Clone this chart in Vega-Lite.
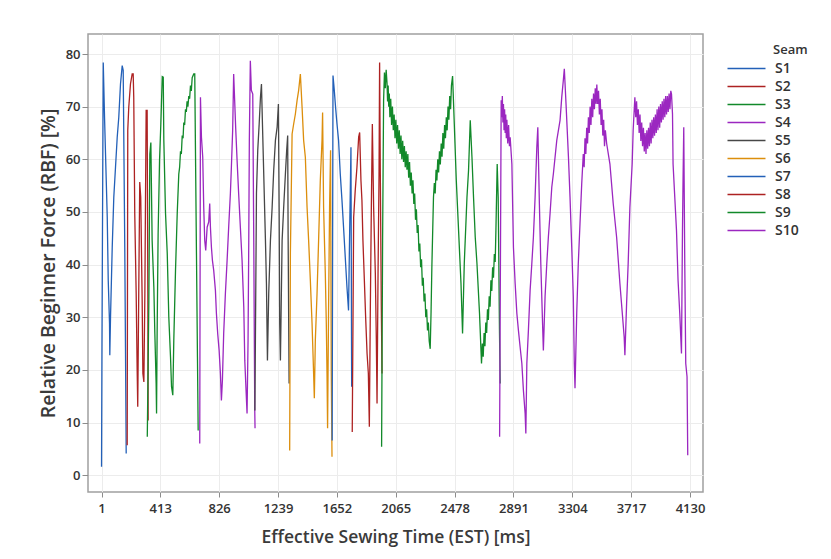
{
"$schema": "https://vega.github.io/schema/vega-lite/v6.json",
"width": 615, "height": 458, "autosize": "none",
"padding": {"left": 88, "top": 34, "right": 128, "bottom": 67},
"background": "white",
"config": {
  "view": {"stroke": "#a0a0a0", "strokeWidth": 1.5},
  "font": "Open Sans",
  "axis": {"gridColor": "#ececec", "gridWidth": 1, "domain": false, "tickColor": "#8c8c8c", "tickSize": 5,
    "labelFont": "Open Sans", "labelFontSize": 13, "labelFontWeight": 600, "labelColor": "#333333",
    "titleFont": "Open Sans", "titleFontWeight": 600, "titleColor": "#3a3a3a"},
  "legend": {"titleFont": "Open Sans", "titleFontSize": 13, "titleFontWeight": 600, "titleColor": "#333333",
    "labelFont": "Open Sans", "labelFontSize": 14, "labelFontWeight": 600, "labelColor": "#333333"}
},
"datasets": {"d": [
{"s":"S1","t":1,"v":1.6},{"s":"S1","t":4,"v":25.0},{"s":"S1","t":13,"v":78.4},{"s":"S1","t":22,"v":68.0},{"s":"S1","t":34,"v":56.0},{"s":"S1","t":41,"v":49.0},{"s":"S1","t":48,"v":37.0},{"s":"S1","t":57,"v":28.8},{"s":"S1","t":59,"v":22.8},{"s":"S1","t":64,"v":30.0},{"s":"S1","t":76,"v":43.3},{"s":"S1","t":87,"v":52.8},{"s":"S1","t":99,"v":58.5},{"s":"S1","t":111,"v":64.2},{"s":"S1","t":122,"v":68.0},{"s":"S1","t":134,"v":74.3},{"s":"S1","t":146,"v":77.8},{"s":"S1","t":153,"v":76.9},{"s":"S1","t":164,"v":43.3},{"s":"S1","t":169,"v":24.3},{"s":"S1","t":174,"v":4.1},
{"s":"S2","t":181,"v":5.7},{"s":"S2","t":185,"v":65.5},{"s":"S2","t":192,"v":69.9},{"s":"S2","t":204,"v":74.3},{"s":"S2","t":216,"v":76.2},{"s":"S2","t":223,"v":76.2},{"s":"S2","t":227,"v":71.8},{"s":"S2","t":234,"v":49.7},{"s":"S2","t":244,"v":34.5},{"s":"S2","t":251,"v":19.9},{"s":"S2","t":255,"v":13.0},{"s":"S2","t":262,"v":34.5},{"s":"S2","t":269,"v":55.7},{"s":"S2","t":276,"v":52.8},{"s":"S2","t":286,"v":33.2},{"s":"S2","t":291,"v":19.3},{"s":"S2","t":298,"v":17.7},{"s":"S2","t":305,"v":34.5},{"s":"S2","t":309,"v":50.9},{"s":"S2","t":314,"v":69.3},{"s":"S2","t":321,"v":69.3},{"s":"S2","t":326,"v":33.2},{"s":"S2","t":328,"v":10.4},
{"s":"S3","t":322,"v":7.3},{"s":"S3","t":333,"v":33.2},{"s":"S3","t":340,"v":61.0},{"s":"S3","t":347,"v":63.2},{"s":"S3","t":356,"v":44.6},{"s":"S3","t":368,"v":35.7},{"s":"S3","t":375,"v":26.9},{"s":"S3","t":384,"v":17.4},{"s":"S3","t":387,"v":11.7},{"s":"S3","t":391,"v":26.9},{"s":"S3","t":398,"v":45.9},{"s":"S3","t":408,"v":59.8},{"s":"S3","t":417,"v":66.7},{"s":"S3","t":427,"v":75.7},{"s":"S3","t":434,"v":75.6},{"s":"S3","t":438,"v":63.6},{"s":"S3","t":450,"v":49.7},{"s":"S3","t":462,"v":42.1},{"s":"S3","t":473,"v":30.0},{"s":"S3","t":485,"v":22.4},{"s":"S3","t":492,"v":16.8},{"s":"S3","t":501,"v":15.2},{"s":"S3","t":508,"v":25.6},{"s":"S3","t":520,"v":38.9},{"s":"S3","t":532,"v":49.7},{"s":"S3","t":543,"v":57.2},{"s":"S3","t":549,"v":58.5},{"s":"S3","t":555,"v":61.5},{"s":"S3","t":561,"v":61.0},{"s":"S3","t":567,"v":64.5},{"s":"S3","t":573,"v":64.0},{"s":"S3","t":578,"v":67.0},{"s":"S3","t":584,"v":66.5},{"s":"S3","t":590,"v":69.5},{"s":"S3","t":596,"v":69.0},{"s":"S3","t":601,"v":71.0},{"s":"S3","t":607,"v":70.0},{"s":"S3","t":613,"v":72.0},{"s":"S3","t":619,"v":71.5},{"s":"S3","t":625,"v":74.0},{"s":"S3","t":631,"v":73.0},{"s":"S3","t":637,"v":75.5},{"s":"S3","t":648,"v":76.2},{"s":"S3","t":655,"v":76.2},{"s":"S3","t":660,"v":61.7},{"s":"S3","t":667,"v":42.1},{"s":"S3","t":674,"v":22.4},{"s":"S3","t":679,"v":8.5},
{"s":"S4","t":690,"v":6.0},{"s":"S4","t":695,"v":71.8},{"s":"S4","t":702,"v":64.2},{"s":"S4","t":711,"v":60.4},{"s":"S4","t":718,"v":50.9},{"s":"S4","t":725,"v":44.6},{"s":"S4","t":732,"v":42.7},{"s":"S4","t":742,"v":47.1},{"s":"S4","t":753,"v":48.1},{"s":"S4","t":760,"v":51.6},{"s":"S4","t":765,"v":47.1},{"s":"S4","t":772,"v":43.3},{"s":"S4","t":779,"v":40.8},{"s":"S4","t":788,"v":38.9},{"s":"S4","t":800,"v":35.1},{"s":"S4","t":807,"v":30.7},{"s":"S4","t":816,"v":26.9},{"s":"S4","t":826,"v":23.7},{"s":"S4","t":835,"v":19.3},{"s":"S4","t":842,"v":14.2},{"s":"S4","t":849,"v":18.0},{"s":"S4","t":858,"v":26.9},{"s":"S4","t":870,"v":34.5},{"s":"S4","t":882,"v":40.8},{"s":"S4","t":893,"v":47.1},{"s":"S4","t":905,"v":53.5},{"s":"S4","t":912,"v":58.5},{"s":"S4","t":921,"v":65.5},{"s":"S4","t":928,"v":76.2},{"s":"S4","t":935,"v":71.2},{"s":"S4","t":942,"v":66.1},{"s":"S4","t":952,"v":59.8},{"s":"S4","t":963,"v":53.5},{"s":"S4","t":975,"v":47.1},{"s":"S4","t":987,"v":40.8},{"s":"S4","t":999,"v":31.9},{"s":"S4","t":1006,"v":21.8},{"s":"S4","t":1015,"v":16.1},{"s":"S4","t":1022,"v":11.7},{"s":"S4","t":1029,"v":25.6},{"s":"S4","t":1034,"v":44.6},{"s":"S4","t":1038,"v":63.6},{"s":"S4","t":1045,"v":78.7},{"s":"S4","t":1052,"v":73.1},{"s":"S4","t":1062,"v":72.4},{"s":"S4","t":1069,"v":44.6},{"s":"S4","t":1076,"v":12.3},{"s":"S4","t":1078,"v":8.9},
{"s":"S5","t":1077,"v":12.3},{"s":"S5","t":1088,"v":53.5},{"s":"S5","t":1097,"v":61.7},{"s":"S5","t":1107,"v":66.7},{"s":"S5","t":1116,"v":71.8},{"s":"S5","t":1123,"v":74.3},{"s":"S5","t":1130,"v":66.7},{"s":"S5","t":1139,"v":57.2},{"s":"S5","t":1151,"v":44.6},{"s":"S5","t":1158,"v":36.4},{"s":"S5","t":1165,"v":21.8},{"s":"S5","t":1174,"v":34.5},{"s":"S5","t":1186,"v":44.6},{"s":"S5","t":1198,"v":50.9},{"s":"S5","t":1209,"v":57.9},{"s":"S5","t":1221,"v":63.6},{"s":"S5","t":1233,"v":66.1},{"s":"S5","t":1242,"v":70.5},{"s":"S5","t":1247,"v":50.9},{"s":"S5","t":1251,"v":28.8},{"s":"S5","t":1256,"v":21.8},{"s":"S5","t":1268,"v":44.6},{"s":"S5","t":1279,"v":50.9},{"s":"S5","t":1291,"v":57.2},{"s":"S5","t":1300,"v":61.7},{"s":"S5","t":1307,"v":64.5},{"s":"S5","t":1310,"v":45.9},{"s":"S5","t":1317,"v":17.4},
{"s":"S6","t":1321,"v":4.7},{"s":"S6","t":1326,"v":42.1},{"s":"S6","t":1338,"v":64.8},{"s":"S6","t":1349,"v":66.7},{"s":"S6","t":1361,"v":68.6},{"s":"S6","t":1373,"v":71.2},{"s":"S6","t":1384,"v":73.1},{"s":"S6","t":1396,"v":76.2},{"s":"S6","t":1408,"v":69.9},{"s":"S6","t":1419,"v":63.6},{"s":"S6","t":1431,"v":60.4},{"s":"S6","t":1443,"v":50.9},{"s":"S6","t":1454,"v":44.6},{"s":"S6","t":1466,"v":37.0},{"s":"S6","t":1478,"v":28.8},{"s":"S6","t":1489,"v":19.3},{"s":"S6","t":1494,"v":14.6},{"s":"S6","t":1501,"v":25.6},{"s":"S6","t":1513,"v":34.5},{"s":"S6","t":1524,"v":44.6},{"s":"S6","t":1536,"v":56.0},{"s":"S6","t":1548,"v":63.6},{"s":"S6","t":1552,"v":68.9},{"s":"S6","t":1559,"v":50.9},{"s":"S6","t":1571,"v":38.3},{"s":"S6","t":1578,"v":28.8},{"s":"S6","t":1583,"v":19.3},{"s":"S6","t":1587,"v":8.9},{"s":"S6","t":1594,"v":31.9},{"s":"S6","t":1601,"v":50.9},{"s":"S6","t":1608,"v":61.7},{"s":"S6","t":1613,"v":19.3},{"s":"S6","t":1618,"v":3.5},
{"s":"S7","t":1619,"v":6.6},{"s":"S7","t":1625,"v":75.9},{"s":"S7","t":1634,"v":73.1},{"s":"S7","t":1643,"v":69.9},{"s":"S7","t":1653,"v":66.7},{"s":"S7","t":1664,"v":63.6},{"s":"S7","t":1676,"v":57.2},{"s":"S7","t":1688,"v":52.2},{"s":"S7","t":1699,"v":47.1},{"s":"S7","t":1711,"v":41.4},{"s":"S7","t":1723,"v":35.7},{"s":"S7","t":1734,"v":31.3},{"s":"S7","t":1741,"v":44.6},{"s":"S7","t":1751,"v":62.3},{"s":"S7","t":1756,"v":16.8},
{"s":"S8","t":1760,"v":8.2},{"s":"S8","t":1770,"v":49.0},{"s":"S8","t":1781,"v":54.1},{"s":"S8","t":1793,"v":58.5},{"s":"S8","t":1805,"v":64.2},{"s":"S8","t":1812,"v":65.1},{"s":"S8","t":1821,"v":56.0},{"s":"S8","t":1828,"v":52.2},{"s":"S8","t":1835,"v":44.6},{"s":"S8","t":1845,"v":37.0},{"s":"S8","t":1854,"v":30.0},{"s":"S8","t":1864,"v":23.1},{"s":"S8","t":1873,"v":19.3},{"s":"S8","t":1880,"v":9.2},{"s":"S8","t":1887,"v":31.9},{"s":"S8","t":1894,"v":50.9},{"s":"S8","t":1901,"v":66.7},{"s":"S8","t":1910,"v":50.9},{"s":"S8","t":1922,"v":38.3},{"s":"S8","t":1929,"v":25.6},{"s":"S8","t":1934,"v":13.6},{"s":"S8","t":1941,"v":38.3},{"s":"S8","t":1948,"v":57.2},{"s":"S8","t":1952,"v":78.4},{"s":"S8","t":1957,"v":57.2},{"s":"S8","t":1964,"v":31.9},{"s":"S8","t":1969,"v":19.3},
{"s":"S9","t":1966,"v":5.4},{"s":"S9","t":1973,"v":44.6},{"s":"S9","t":1980,"v":71.2},{"s":"S9","t":1986,"v":76.5},{"s":"S9","t":1992,"v":73.5},{"s":"S9","t":1998,"v":77.0},{"s":"S9","t":2004,"v":74.5},{"s":"S9","t":2008,"v":71.0},{"s":"S9","t":2012,"v":74.0},{"s":"S9","t":2016,"v":70.0},{"s":"S9","t":2020,"v":72.5},{"s":"S9","t":2024,"v":68.0},{"s":"S9","t":2030,"v":71.5},{"s":"S9","t":2036,"v":66.5},{"s":"S9","t":2042,"v":70.0},{"s":"S9","t":2048,"v":65.5},{"s":"S9","t":2054,"v":68.5},{"s":"S9","t":2060,"v":64.0},{"s":"S9","t":2066,"v":67.5},{"s":"S9","t":2072,"v":63.0},{"s":"S9","t":2078,"v":66.5},{"s":"S9","t":2084,"v":62.0},{"s":"S9","t":2090,"v":65.5},{"s":"S9","t":2096,"v":61.0},{"s":"S9","t":2102,"v":64.5},{"s":"S9","t":2108,"v":60.0},{"s":"S9","t":2114,"v":63.5},{"s":"S9","t":2120,"v":59.5},{"s":"S9","t":2126,"v":62.5},{"s":"S9","t":2132,"v":58.5},{"s":"S9","t":2138,"v":61.5},{"s":"S9","t":2144,"v":58.0},{"s":"S9","t":2150,"v":61.0},{"s":"S9","t":2156,"v":56.5},{"s":"S9","t":2162,"v":59.5},{"s":"S9","t":2168,"v":55.0},{"s":"S9","t":2174,"v":57.5},{"s":"S9","t":2180,"v":53.5},{"s":"S9","t":2186,"v":56.0},{"s":"S9","t":2192,"v":51.5},{"s":"S9","t":2198,"v":53.5},{"s":"S9","t":2204,"v":48.5},{"s":"S9","t":2210,"v":50.5},{"s":"S9","t":2216,"v":46.0},{"s":"S9","t":2222,"v":47.5},{"s":"S9","t":2228,"v":42.5},{"s":"S9","t":2234,"v":44.0},{"s":"S9","t":2240,"v":39.5},{"s":"S9","t":2246,"v":41.0},{"s":"S9","t":2252,"v":36.0},{"s":"S9","t":2258,"v":37.5},{"s":"S9","t":2264,"v":33.0},{"s":"S9","t":2270,"v":34.5},{"s":"S9","t":2276,"v":30.0},{"s":"S9","t":2282,"v":31.5},{"s":"S9","t":2288,"v":27.5},{"s":"S9","t":2294,"v":29.0},{"s":"S9","t":2300,"v":25.5},{"s":"S9","t":2307,"v":24.0},{"s":"S9","t":2313,"v":31.0},{"s":"S9","t":2319,"v":40.0},{"s":"S9","t":2325,"v":47.0},{"s":"S9","t":2330,"v":52.8},{"s":"S9","t":2336,"v":55.5},{"s":"S9","t":2342,"v":53.5},{"s":"S9","t":2348,"v":58.0},{"s":"S9","t":2354,"v":56.0},{"s":"S9","t":2360,"v":60.0},{"s":"S9","t":2366,"v":57.5},{"s":"S9","t":2372,"v":61.5},{"s":"S9","t":2378,"v":59.0},{"s":"S9","t":2384,"v":63.0},{"s":"S9","t":2390,"v":60.5},{"s":"S9","t":2396,"v":65.0},{"s":"S9","t":2402,"v":62.0},{"s":"S9","t":2408,"v":66.5},{"s":"S9","t":2414,"v":64.0},{"s":"S9","t":2420,"v":68.0},{"s":"S9","t":2426,"v":65.5},{"s":"S9","t":2432,"v":70.0},{"s":"S9","t":2438,"v":67.5},{"s":"S9","t":2444,"v":72.0},{"s":"S9","t":2450,"v":69.5},{"s":"S9","t":2456,"v":74.0},{"s":"S9","t":2464,"v":75.8},{"s":"S9","t":2476,"v":66.7},{"s":"S9","t":2490,"v":56.0},{"s":"S9","t":2506,"v":46.5},{"s":"S9","t":2523,"v":36.4},{"s":"S9","t":2534,"v":26.9},{"s":"S9","t":2546,"v":40.2},{"s":"S9","t":2565,"v":52.8},{"s":"S9","t":2576,"v":57.9},{"s":"S9","t":2588,"v":67.4},{"s":"S9","t":2600,"v":60.4},{"s":"S9","t":2611,"v":52.8},{"s":"S9","t":2623,"v":45.2},{"s":"S9","t":2635,"v":40.2},{"s":"S9","t":2653,"v":30.7},{"s":"S9","t":2667,"v":21.2},{"s":"S9","t":2673,"v":25.0},{"s":"S9","t":2679,"v":22.5},{"s":"S9","t":2685,"v":27.0},{"s":"S9","t":2691,"v":24.5},{"s":"S9","t":2697,"v":29.0},{"s":"S9","t":2703,"v":27.0},{"s":"S9","t":2709,"v":31.5},{"s":"S9","t":2715,"v":29.5},{"s":"S9","t":2721,"v":34.0},{"s":"S9","t":2727,"v":32.0},{"s":"S9","t":2733,"v":37.0},{"s":"S9","t":2739,"v":35.0},{"s":"S9","t":2745,"v":39.5},{"s":"S9","t":2751,"v":37.5},{"s":"S9","t":2757,"v":42.0},{"s":"S9","t":2763,"v":40.5},{"s":"S9","t":2768,"v":46.5},{"s":"S9","t":2777,"v":59.1},{"s":"S9","t":2784,"v":52.8},{"s":"S9","t":2793,"v":27.5},{"s":"S9","t":2798,"v":17.4},
{"s":"S10","t":2794,"v":7.3},{"s":"S10","t":2805,"v":71.2},{"s":"S10","t":2809,"v":68.0},{"s":"S10","t":2813,"v":72.0},{"s":"S10","t":2817,"v":67.0},{"s":"S10","t":2821,"v":70.5},{"s":"S10","t":2825,"v":65.5},{"s":"S10","t":2829,"v":69.5},{"s":"S10","t":2833,"v":65.0},{"s":"S10","t":2837,"v":68.5},{"s":"S10","t":2841,"v":64.0},{"s":"S10","t":2845,"v":67.5},{"s":"S10","t":2851,"v":63.0},{"s":"S10","t":2857,"v":66.5},{"s":"S10","t":2863,"v":62.5},{"s":"S10","t":2868,"v":64.2},{"s":"S10","t":2880,"v":59.1},{"s":"S10","t":2891,"v":43.3},{"s":"S10","t":2903,"v":36.4},{"s":"S10","t":2915,"v":30.7},{"s":"S10","t":2926,"v":27.5},{"s":"S10","t":2938,"v":24.3},{"s":"S10","t":2950,"v":21.2},{"s":"S10","t":2961,"v":16.1},{"s":"S10","t":2973,"v":11.7},{"s":"S10","t":2978,"v":7.9},{"s":"S10","t":2985,"v":21.2},{"s":"S10","t":2996,"v":27.5},{"s":"S10","t":3008,"v":35.1},{"s":"S10","t":3020,"v":40.2},{"s":"S10","t":3031,"v":45.2},{"s":"S10","t":3043,"v":52.8},{"s":"S10","t":3055,"v":62.3},{"s":"S10","t":3062,"v":66.1},{"s":"S10","t":3073,"v":51.6},{"s":"S10","t":3083,"v":40.2},{"s":"S10","t":3094,"v":30.0},{"s":"S10","t":3101,"v":23.7},{"s":"S10","t":3113,"v":34.0},{"s":"S10","t":3125,"v":40.2},{"s":"S10","t":3136,"v":45.2},{"s":"S10","t":3148,"v":49.7},{"s":"S10","t":3160,"v":54.7},{"s":"S10","t":3171,"v":57.2},{"s":"S10","t":3195,"v":63.6},{"s":"S10","t":3218,"v":67.4},{"s":"S10","t":3230,"v":71.8},{"s":"S10","t":3241,"v":75.0},{"s":"S10","t":3248,"v":77.2},{"s":"S10","t":3260,"v":70.5},{"s":"S10","t":3277,"v":60.4},{"s":"S10","t":3288,"v":52.8},{"s":"S10","t":3300,"v":43.3},{"s":"S10","t":3311,"v":34.0},{"s":"S10","t":3318,"v":21.2},{"s":"S10","t":3323,"v":16.5},{"s":"S10","t":3335,"v":30.7},{"s":"S10","t":3346,"v":40.2},{"s":"S10","t":3358,"v":47.8},{"s":"S10","t":3370,"v":55.3},{"s":"S10","t":3381,"v":61.0},{"s":"S10","t":3387,"v":58.5},{"s":"S10","t":3393,"v":64.0},{"s":"S10","t":3399,"v":61.0},{"s":"S10","t":3405,"v":66.0},{"s":"S10","t":3411,"v":63.0},{"s":"S10","t":3417,"v":68.0},{"s":"S10","t":3423,"v":65.0},{"s":"S10","t":3429,"v":70.0},{"s":"S10","t":3435,"v":66.5},{"s":"S10","t":3441,"v":71.5},{"s":"S10","t":3447,"v":68.0},{"s":"S10","t":3453,"v":72.5},{"s":"S10","t":3459,"v":69.5},{"s":"S10","t":3465,"v":73.5},{"s":"S10","t":3471,"v":70.5},{"s":"S10","t":3476,"v":74.2},{"s":"S10","t":3482,"v":70.5},{"s":"S10","t":3488,"v":73.0},{"s":"S10","t":3494,"v":68.5},{"s":"S10","t":3500,"v":71.5},{"s":"S10","t":3506,"v":66.5},{"s":"S10","t":3512,"v":69.5},{"s":"S10","t":3518,"v":64.5},{"s":"S10","t":3524,"v":67.5},{"s":"S10","t":3530,"v":62.5},{"s":"S10","t":3536,"v":65.5},{"s":"S10","t":3545,"v":63.0},{"s":"S10","t":3568,"v":59.1},{"s":"S10","t":3591,"v":51.6},{"s":"S10","t":3615,"v":45.2},{"s":"S10","t":3638,"v":36.4},{"s":"S10","t":3657,"v":30.0},{"s":"S10","t":3668,"v":26.2},{"s":"S10","t":3673,"v":22.8},{"s":"S10","t":3685,"v":32.6},{"s":"S10","t":3696,"v":40.2},{"s":"S10","t":3708,"v":50.9},{"s":"S10","t":3724,"v":59.1},{"s":"S10","t":3731,"v":65.5},{"s":"S10","t":3743,"v":71.8},{"s":"S10","t":3749,"v":68.0},{"s":"S10","t":3755,"v":71.0},{"s":"S10","t":3761,"v":66.5},{"s":"S10","t":3767,"v":69.5},{"s":"S10","t":3773,"v":65.0},{"s":"S10","t":3779,"v":68.5},{"s":"S10","t":3785,"v":63.5},{"s":"S10","t":3791,"v":67.0},{"s":"S10","t":3797,"v":62.5},{"s":"S10","t":3803,"v":66.0},{"s":"S10","t":3809,"v":61.5},{"s":"S10","t":3815,"v":65.0},{"s":"S10","t":3821,"v":61.0},{"s":"S10","t":3827,"v":65.5},{"s":"S10","t":3833,"v":62.0},{"s":"S10","t":3839,"v":66.0},{"s":"S10","t":3845,"v":62.5},{"s":"S10","t":3851,"v":67.0},{"s":"S10","t":3857,"v":63.0},{"s":"S10","t":3863,"v":67.5},{"s":"S10","t":3869,"v":64.0},{"s":"S10","t":3875,"v":68.0},{"s":"S10","t":3881,"v":64.5},{"s":"S10","t":3887,"v":68.5},{"s":"S10","t":3893,"v":65.0},{"s":"S10","t":3899,"v":69.5},{"s":"S10","t":3905,"v":65.5},{"s":"S10","t":3911,"v":70.0},{"s":"S10","t":3917,"v":66.0},{"s":"S10","t":3923,"v":70.5},{"s":"S10","t":3929,"v":67.0},{"s":"S10","t":3935,"v":71.0},{"s":"S10","t":3941,"v":67.5},{"s":"S10","t":3947,"v":71.5},{"s":"S10","t":3953,"v":68.0},{"s":"S10","t":3959,"v":72.0},{"s":"S10","t":3965,"v":68.5},{"s":"S10","t":3971,"v":72.0},{"s":"S10","t":3977,"v":69.0},{"s":"S10","t":3983,"v":72.5},{"s":"S10","t":3989,"v":69.5},{"s":"S10","t":3995,"v":73.0},{"s":"S10","t":4000,"v":72.4},{"s":"S10","t":4007,"v":68.6},{"s":"S10","t":4011,"v":59.1},{"s":"S10","t":4023,"v":52.8},{"s":"S10","t":4035,"v":46.5},{"s":"S10","t":4046,"v":37.0},{"s":"S10","t":4058,"v":30.7},{"s":"S10","t":4070,"v":23.1},{"s":"S10","t":4077,"v":46.5},{"s":"S10","t":4081,"v":56.0},{"s":"S10","t":4086,"v":66.1},{"s":"S10","t":4093,"v":40.2},{"s":"S10","t":4100,"v":21.2},{"s":"S10","t":4109,"v":18.7},{"s":"S10","t":4114,"v":3.8}
]},
"data": {"name": "d"},
"mark": {"type": "line", "strokeWidth": 1.3, "interpolate": "linear"},
"encoding": {
  "x": {"field": "t", "type": "quantitative",
    "scale": {"domain": [-94, 4221], "nice": false, "zero": false},
    "axis": {"values": [1,413,826,1239,1652,2065,2478,2891,3304,3717,4130], "format": "d", "title": "Effective Sewing Time (EST) [ms]", "titleFontSize": 17.5, "labelPadding": 5, "titlePadding": 13, "labelFlush": false}},
  "y": {"field": "v", "type": "quantitative",
    "scale": {"domain": [-3.2, 83.8], "nice": false, "zero": false},
    "axis": {"values": [0,10,20,30,40,50,60,70,80], "title": "Relative Beginner Force (RBF) [%]", "titleFontSize": 19.5, "tickSize": 6, "labelPadding": 2, "titlePadding": 7}},
  "color": {"field": "s", "type": "nominal",
    "scale": {"domain": ["S1","S2","S3","S4","S5","S6","S7","S8","S9","S10"],
      "range": ["#2360b8","#ad2222","#12892a","#9b27c0","#474747","#dc8e0c","#2360b8","#ad2222","#12892a","#9b27c0"]},
    "legend": {"title": "Seam", "orient": "none", "legendX": 650, "legendY": 10, "padding": 0, "rowPadding": 2,
      "symbolType": "M-2.5,0H2.5", "symbolSize": 231, "symbolStrokeWidth": 1.5, "labelOffset": 20, "titlePadding": 3,
      "encode": {"title": {"update": {"dx": {"value": 35}}}}}}
}
}
